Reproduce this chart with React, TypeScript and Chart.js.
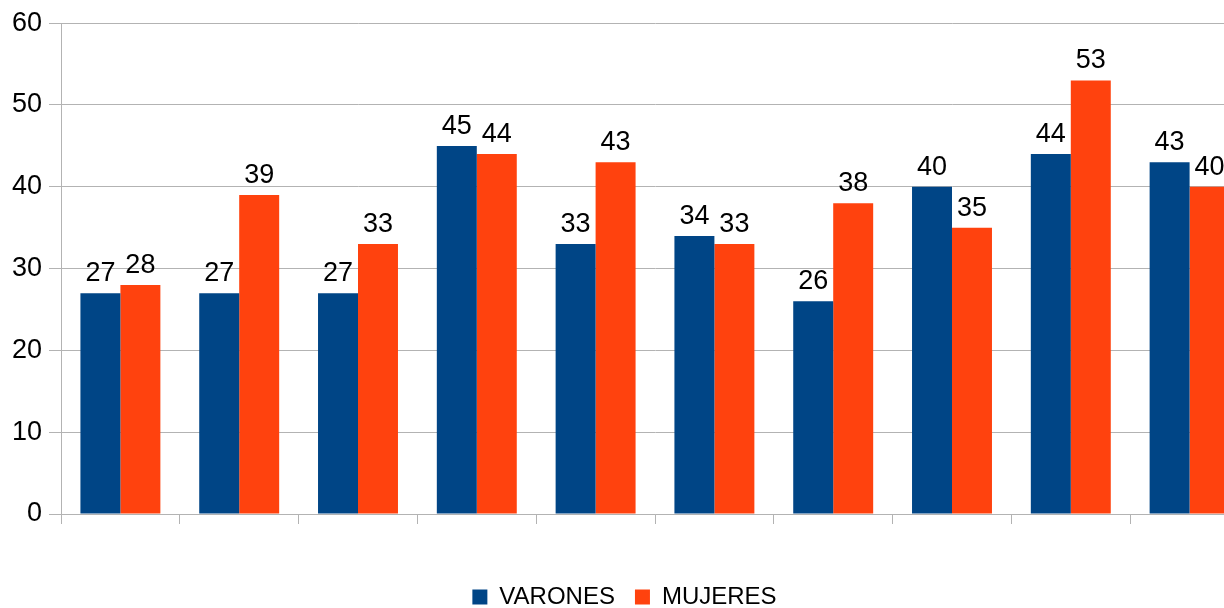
import React, { useEffect, useRef } from "react";
import { Chart, registerables } from "chart.js";

Chart.register(...registerables);

const categories: string[] = ["", "", "", "", "", "", "", "", "", ""];
const varones: number[] = [27, 27, 27, 45, 33, 34, 26, 40, 44, 43];
const mujeres: number[] = [28, 39, 33, 44, 43, 33, 38, 35, 53, 40];
const yTicks = { min: 0, max: 60, step: 10 };
const seriesNames = ["VARONES", "MUJERES"];

const FONT = "'Liberation Sans', Arial, sans-serif";
const GRID = "#b3b3b3";

const valueLabels = {
  id: "valueLabels",
  afterDatasetsDraw(chart: any) {
    const ctx = chart.ctx;
    ctx.save();
    ctx.font = `27px ${FONT}`;
    ctx.fillStyle = "#000";
    ctx.textAlign = "center";
    ctx.textBaseline = "alphabetic";
    chart.data.datasets.forEach((ds: any, i: number) => {
      const meta = chart.getDatasetMeta(i);
      meta.data.forEach((el: any, j: number) => {
        ctx.fillText(String(ds.data[j]), el.x, el.y - 12);
      });
    });
    ctx.restore();
  },
};

export default function App() {
  const ref = useRef<HTMLCanvasElement>(null);
  useEffect(() => {
    if (!ref.current) return;
    const chart = new Chart(ref.current, {
      type: "bar",
      data: {
        labels: categories,
        datasets: [
          { label: seriesNames[0], data: varones, backgroundColor: "#004586", categoryPercentage: 0.673, barPercentage: 1 },
          { label: seriesNames[1], data: mujeres, backgroundColor: "#ff420e", categoryPercentage: 0.673, barPercentage: 1 },
        ],
      },
      options: {
        animation: false,
        responsive: false,
        maintainAspectRatio: false,
        layout: { padding: { top: 22, left: 0, right: 0, bottom: 0 } },
        plugins: {
          legend: {
            position: "bottom",
            labels: {
              boxWidth: 15,
              boxHeight: 15,
              padding: 20,
              color: "#000",
              font: { family: FONT, size: 24 },
            },
          },
          tooltip: { enabled: false },
        },
        scales: {
          x: {
            offset: true,
            grid: { offset: true, drawOnChartArea: false, drawTicks: true, tickLength: 10, color: GRID },
            border: { display: true, color: GRID },
            ticks: { display: false },
            afterFit: (s: any) => { s.height = 51; },
          },
          y: {
            min: yTicks.min,
            max: yTicks.max,
            ticks: { stepSize: yTicks.step, color: "#000", padding: 7, font: { family: FONT, size: 27 } },
            grid: { color: GRID, tickLength: 12 },
            border: { display: true, color: GRID },
            afterFit: (s: any) => { s.width = 61; },
          },
        },
      },
      plugins: [valueLabels],
    });
    return () => chart.destroy();
  }, []);
  return (
    <div style={{ position: "fixed", left: 0, top: 0, width: 1224, height: 608, overflow: "hidden", background: "#fff" }}>
      <canvas ref={ref} width={1249} height={619} style={{ display: "block" }} />
    </div>
  );
}
